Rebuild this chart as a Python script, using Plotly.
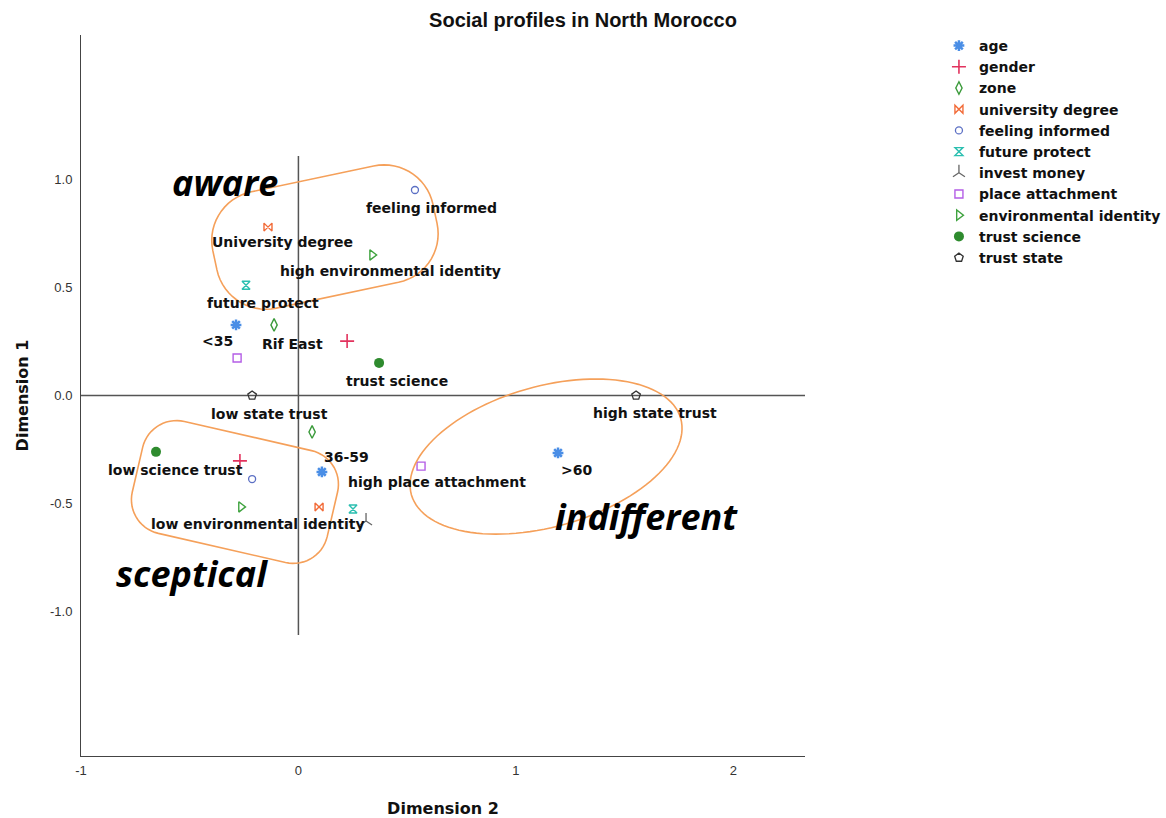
import numpy as np
import plotly.graph_objects as go

# ---------------- data (Dimension 2 = x, Dimension 1 = y) ----------------
series_names = ["age", "gender", "zone", "university degree", "feeling informed",
                "future protect", "invest money", "place attachment",
                "environmental identity", "trust science", "trust state"]

age_dim2 = [-0.287, 0.108, 1.194]
age_dim1 = [0.327, -0.354, -0.266]
gender_dim2 = [0.224, -0.269]
gender_dim1 = [0.252, -0.303]
zone_dim2 = [-0.112, 0.063]
zone_dim1 = [0.327, -0.169]
degree_dim2 = [-0.140, 0.095]
degree_dim1 = [0.780, -0.516]
informed_dim2 = [0.536, -0.213]
informed_dim1 = [0.952, -0.387]
future_dim2 = [-0.241, 0.251]
future_dim1 = [0.511, -0.526]
invest_dim2 = [0.311]
invest_dim1 = [-0.581]
place_dim2 = [-0.282, 0.564]
place_dim1 = [0.174, -0.327]
envid_dim2 = [0.339, -0.264]
envid_dim1 = [0.651, -0.516]
science_dim2 = [0.371, -0.655]
science_dim1 = [0.151, -0.261]
state_dim2 = [-0.213, 1.553]
state_dim1 = [0.0, 0.0]

# category labels: (series, point index, text)
point_labels = [
    ("feeling informed", 0, "feeling informed"),
    ("university degree", 0, "University degree"),
    ("environmental identity", 0, "high environmental identity"),
    ("future protect", 0, "future protect"),
    ("age", 0, "<35"),
    ("zone", 0, "Rif East"),
    ("trust science", 0, "trust science"),
    ("trust state", 0, "low state trust"),
    ("trust state", 1, "high state trust"),
    ("age", 1, "36-59"),
    ("place attachment", 1, "high place attachment"),
    ("age", 2, ">60"),
    ("trust science", 1, "low science trust"),
    ("environmental identity", 1, "low environmental identity"),
]
# pixel offsets of each label from its point (dx right, dy down)
label_offsets = [(17, 18), (15, 15), (18, 16), (17, 18), (-19, 16), (18, 19),
                 (18, 18), (17, 18), (19, 17), (25, -15), (16, 16), (18, 17),
                 (19, 18), (17, 17)]

profile_names = ["aware", "sceptical", "indifferent"]

x_ticks = [-1, 0, 1, 2]
x_tick_text = ["-1", "0", "1", "2"]
y_ticks = [-1.0, -0.5, 0.0, 0.5, 1.0]
y_tick_text = ["-1.0", "-0.5", "0.0", "0.5", "1.0"]

# ---------------- styles ----------------
series_data = {
    "age": (age_dim2, age_dim1),
    "gender": (gender_dim2, gender_dim1),
    "zone": (zone_dim2, zone_dim1),
    "university degree": (degree_dim2, degree_dim1),
    "feeling informed": (informed_dim2, informed_dim1),
    "future protect": (future_dim2, future_dim1),
    "invest money": (invest_dim2, invest_dim1),
    "place attachment": (place_dim2, place_dim1),
    "environmental identity": (envid_dim2, envid_dim1),
    "trust science": (science_dim2, science_dim1),
    "trust state": (state_dim2, state_dim1),
}
styles = {
    "age": dict(symbol="asterisk-open", color="#4a8ee6", size=9, lw=2.5),
    "gender": dict(symbol="cross-thin-open", color="#e2335e", size=10, lw=1.6),
    "zone": dict(symbol="diamond-tall-open", color="#3a9a3a", size=9, lw=1.4),
    "university degree": dict(symbol="bowtie-open", color="#f26b38", size=8, lw=1.4),
    "feeling informed": dict(symbol="circle-open", color="#5b6fc4", size=7, lw=1.3),
    "future protect": dict(symbol="hourglass-open", color="#2bbfb0", size=8, lw=1.4),
    "invest money": dict(symbol="y-up-open", color="#666666", size=10, lw=1.3),
    "place attachment": dict(symbol="square-open", color="#b45ee6", size=8, lw=1.4),
    "environmental identity": dict(symbol="triangle-right-open", color="#3fa33f", size=9, lw=1.4),
    "trust science": dict(symbol="circle", color="#2e8b2e", size=10, lw=0),
    "trust state": dict(symbol="pentagon-open", color="#333333", size=9, lw=1.3),
}

fig = go.Figure()
for name in series_names:
    xs, ys = series_data[name]
    st = styles[name]
    fig.add_trace(go.Scatter(
        x=xs, y=ys, mode="markers", name=name, legendgroup=name,
        marker=dict(symbol=st["symbol"], size=st["size"], color=st["color"],
                    line=dict(color=st["color"], width=st["lw"])),
        hoverinfo="skip"))

annotations = []
for (sname, idx, text), (dx, dy) in zip(point_labels, label_offsets):
    xs, ys = series_data[sname]
    annotations.append(dict(x=xs[idx], y=ys[idx], xref="x", yref="y", text=text,
                            showarrow=False, xshift=dx, yshift=-dy,
                            font=dict(family="DejaVu Sans", size=14, color="#111111", weight="bold")))

# profile names (big italic)
profile_pos = [(-0.34, 0.985), (-0.49, -0.825), (1.6, -0.56)]
for text, (px, py) in zip(profile_names, profile_pos):
    annotations.append(dict(x=px, y=py, xref="x", yref="y", text=text, showarrow=False,
                            font=dict(family="Open Sans", size=36, color="#000000",
                                      weight="bold", style="italic")))


def rounded_rect(cx, cy, w, h, r, ang_deg, n=16):
    pts = []
    hw, hh = w / 2 - r, h / 2 - r
    corners = [(hw, hh, 0), (-hw, hh, 90), (-hw, -hh, 180), (hw, -hh, 270)]
    for ccx, ccy, a0 in corners:
        for t in np.linspace(np.radians(a0), np.radians(a0 + 90), n):
            pts.append((ccx + r * np.cos(t), ccy + r * np.sin(t)))
    a = np.radians(ang_deg)
    out = [(cx + px * np.cos(a) - py * np.sin(a), cy + px * np.sin(a) + py * np.cos(a)) for px, py in pts]
    return out


def ellipse(cx, cy, a_, b_, ang_deg, n=120):
    a = np.radians(ang_deg)
    out = []
    for t in np.linspace(0, 2 * np.pi, n, endpoint=False):
        px, py = a_ * np.cos(t), b_ * np.sin(t)
        out.append((cx + px * np.cos(a) - py * np.sin(a), cy + px * np.sin(a) + py * np.cos(a)))
    return out


def to_path(pts):
    return "M " + " L ".join(f"{x:.4f},{y:.4f}" for x, y in pts) + " Z"


outline = dict(color="#f5a05a", width=1.6)
shapes = [
    dict(type="line", xref="x", yref="y", x0=0, x1=0, y0=-1.11, y1=1.11,
         line=dict(color="#555555", width=1.5), layer="below"),
    dict(type="line", xref="x", yref="y", x0=-1, x1=2.33, y0=0, y1=0,
         line=dict(color="#555555", width=1.5), layer="below"),
    dict(type="path", xref="x", yref="y", path=to_path(rounded_rect(0.122, 0.734, 1.035, 0.551, 0.23, 12)),
         line=outline),
    dict(type="path", xref="x", yref="y", path=to_path(rounded_rect(-0.292, -0.447, 0.92, 0.532, 0.16, -13)),
         line=outline),
    dict(type="path", xref="x", yref="y", path=to_path(ellipse(1.139, -0.283, 0.644, 0.325, 16)),
         line=outline),
]

fig.update_layout(
    width=1166, height=818,
    margin=dict(l=81, r=361, t=35, b=62, autoexpand=False),
    plot_bgcolor="white", paper_bgcolor="white",
    title=dict(text="Social profiles in North Morocco", x=0.5, xref="container",
               y=1 - 20 / 818, yref="container", xanchor="center", yanchor="middle",
               font=dict(family="Liberation Sans", size=20, color="#111111", weight="bold")),
    xaxis=dict(range=[-1, 2.33], tickvals=x_ticks, ticktext=x_tick_text, showgrid=False,
               zeroline=False, automargin=False,
               showline=True, linecolor="#444444", linewidth=1, ticks="",
               ticklabelstandoff=2,
               tickfont=dict(family="Liberation Sans", size=13, color="#333333"),
               title=dict(text="Dimension 2", standoff=28,
                          font=dict(family="DejaVu Sans", size=16, color="#111111", weight="bold"))),
    yaxis=dict(range=[-1.67, 1.67], tickvals=y_ticks, ticktext=y_tick_text, showgrid=False,
               zeroline=False, automargin=False,
               showline=True, linecolor="#444444", linewidth=1, ticks="",
               ticklabelstandoff=5,
               tickfont=dict(family="Liberation Sans", size=13, color="#333333"),
               title=dict(text="Dimension 1", standoff=17,
                          font=dict(family="DejaVu Sans", size=16, color="#111111", weight="bold"))),
    legend=dict(x=1.185, y=1.0 + 5 / 721, xanchor="left", yanchor="top", tracegroupgap=0,
                font=dict(family="DejaVu Sans", size=14, color="#111111", weight="bold"),
                bgcolor="rgba(0,0,0,0)"),
    shapes=shapes,
    annotations=annotations,
    showlegend=True,
)

fig.write_html("out.html", config={"displayModeBar": False},
               post_script="document.body.style.margin='0';")
